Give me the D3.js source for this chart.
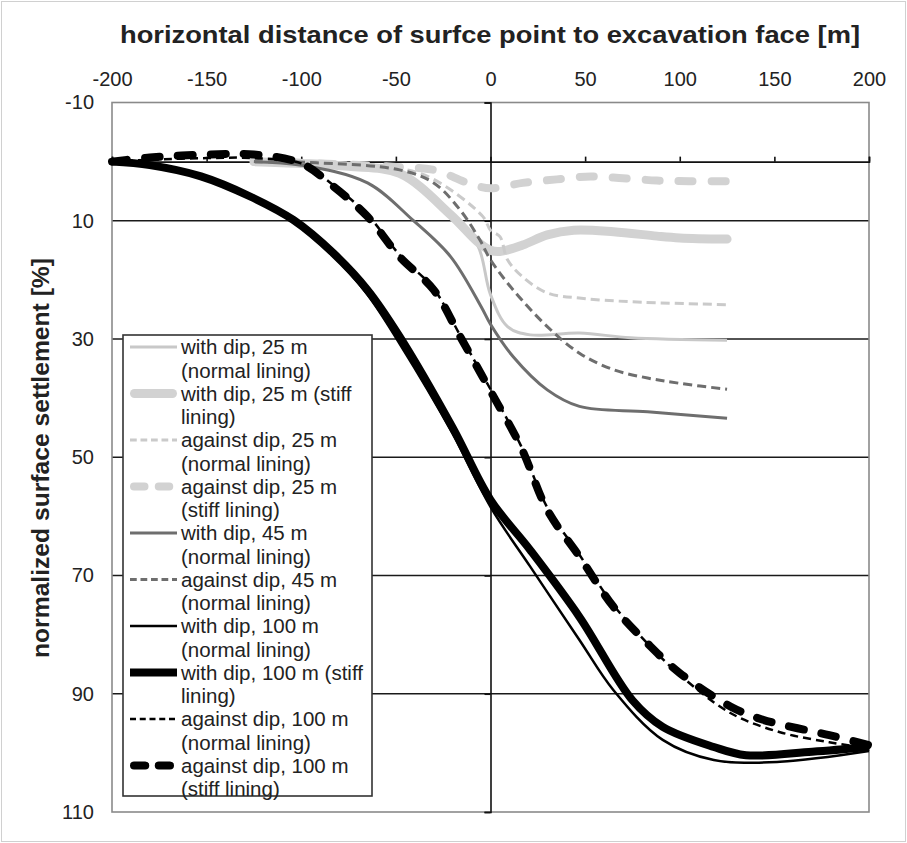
<!DOCTYPE html>
<html>
<head>
<meta charset="utf-8">
<script src="https://cdn.jsdelivr.net/npm/d3@7"></script>
<style>
  body { margin: 0; background: #fff; }
  text { font-family: 'Liberation Sans', Arial, sans-serif; fill: #222; }
</style>
</head>
<body>
<div id="chart"></div>
<script>
// chart values
var xTicks = [-200, -150, -100, -50, 0, 50, 100, 150, 200]
var yTicks = [-10, 10, 30, 50, 70, 90, 110]
var gridValues = [10, 30, 50, 70, 90]

var withDip25Normal = [[-125, 0], [-100, 0.3], [-75, 0.8], [-48, 2], [-21, 9.3], [-7, 14], [0, 22.5], [9, 27.9], [21, 29.3], [47, 29], [74, 29.8], [125, 30.2]]
var withDip25Stiff = [[-125, 0], [-100, 0.3], [-75, 0.8], [-48, 2], [-21, 9], [-7, 13.5], [0, 15], [5, 15.2], [17, 14.1], [30, 12.4], [44, 11.6], [65, 11.85], [88, 12.6], [100, 12.9], [125, 13.1]]
var againstDip25Normal = [[-125, 0], [-100, 0], [-50, 1], [-30, 3], [-4, 9.3], [0, 11.6], [5, 12.7], [9, 16.6], [17, 19.5], [30, 22.2], [48, 23.1], [74, 23.7], [125, 24.2]]
var againstDip25Stiff = [[-125, 0], [-100, 0.2], [-75, 0.5], [-50, 0.9], [-30, 1.4], [-12, 3.6], [0, 4.5], [17, 3.6], [35, 3], [53, 2.5], [70, 2.8], [88, 3.2], [105, 3.3], [125, 3.3]]
var withDip45Normal = [[-125, 0], [-100, 0.6], [-65, 3.6], [-41, 9.9], [-21, 16.1], [-5, 24.5], [0, 27.5], [12, 33], [30, 38.6], [47, 41.4], [83, 42.3], [125, 43.4]]
var againstDip45Normal = [[-125, 0], [-92, 0.2], [-48, 1.4], [-30, 3.6], [-16, 8.2], [-5.5, 13.3], [0, 16.6], [12, 21.7], [30, 27.9], [47, 32.4], [65, 35.2], [83, 36.6], [100, 37.5], [125, 38.5]]
var withDip100Normal = [[-200, 0], [-180, 0.6], [-153, 2.6], [-127, 6.1], [-104, 10.3], [-83, 16], [-65, 22.5], [-48, 30.8], [-20, 46], [0, 58.4], [21, 68.5], [47, 80.9], [65, 89.4], [91, 97.8], [118, 101.2], [153, 101.5], [200, 99.7]]
var withDip100Stiff = [[-200, 0], [-180, 0.6], [-153, 2.5], [-127, 5.9], [-104, 9.9], [-83, 15.5], [-65, 21.7], [-48, 29.6], [-20, 45], [0, 57.2], [21, 65.7], [47, 77], [75, 91.1], [91, 95.6], [118, 99], [135, 100.4], [170, 99.8], [200, 99]]
var againstDip100Normal = [[-200, 0], [-180, -0.3], [-150, -0.6], [-125, -0.6], [-100, 0.3], [-83, 4], [-65, 9], [-48, 15.8], [-30, 21.5], [-16, 29.4], [0, 38.5], [16, 48], [30, 58.5], [47, 66.5], [65, 75], [83, 81.5], [100, 86.8], [127, 93.3], [153, 96.5], [179, 98.2], [200, 99.2]]
var againstDip100Stiff = [[-200, 0], [-180, -0.7], [-150, -1.2], [-125, -1.2], [-100, 0.3], [-83, 4.2], [-65, 9.3], [-48, 16.1], [-30, 21.7], [-16, 29.6], [0, 38.8], [16, 48.2], [30, 58.9], [47, 66.8], [65, 75.3], [83, 81.5], [100, 86.5], [127, 92.2], [144, 94.4], [179, 97], [200, 98.7]]

var seriesNames = [
  'with dip, 25 m (normal lining)',
  'with dip, 25 m (stiff lining)',
  'against dip, 25 m (normal lining)',
  'against dip, 25 m (stiff lining)',
  'with dip, 45 m (normal lining)',
  'against dip, 45 m (normal lining)',
  'with dip, 100 m (normal lining)',
  'with dip, 100 m (stiff lining)',
  'against dip, 100 m (normal lining)',
  'against dip, 100 m (stiff lining)'
]

// line looks for each series
var styles = [
  { color: '#c8c8c8', width: 3, dash: null, cap: 'butt' },
  { color: '#d2d2d2', width: 9, dash: null, cap: 'round' },
  { color: '#cacaca', width: 3, dash: '9,5', cap: 'butt' },
  { color: '#d2d2d2', width: 8, dash: '14,19', cap: 'round' },
  { color: '#6e6e6e', width: 3, dash: null, cap: 'butt' },
  { color: '#6e6e6e', width: 3, dash: '9,5', cap: 'butt' },
  { color: '#000', width: 2.5, dash: null, cap: 'butt' },
  { color: '#000', width: 8, dash: null, cap: 'butt' },
  { color: '#000', width: 2.5, dash: '8,5', cap: 'butt' },
  { color: '#000', width: 8, dash: '15,18', cap: 'round' }
]

var series = [withDip25Normal, withDip25Stiff, againstDip25Normal, againstDip25Stiff,
  withDip45Normal, againstDip45Normal, withDip100Normal, withDip100Stiff,
  againstDip100Normal, againstDip100Stiff]

var width = 907
var height = 843

var svg = d3.select('#chart')
  .append('svg')
  .attr('width', width)
  .attr('height', height)

svg.append('rect')
  .attr('x', 1.5).attr('y', 1.5)
  .attr('width', width - 3).attr('height', height - 3)
  .attr('fill', '#fff')
  .attr('stroke', '#d0d0d0')

var xPositionScale = d3.scaleLinear().domain([-200, 200]).range([112, 869])
var yPositionScale = d3.scaleLinear().domain([-10, 110]).range([102.5, 812])

// gridlines
svg.selectAll('.grid')
  .data(gridValues)
  .enter()
  .append('line')
  .attr('class', 'grid')
  .attr('x1', xPositionScale(-200))
  .attr('x2', xPositionScale(200))
  .attr('y1', d => yPositionScale(d))
  .attr('y2', d => yPositionScale(d))
  .attr('stroke', '#1a1a1a')
  .attr('stroke-width', 1.6)

// plot frame
svg.append('rect')
  .attr('x', xPositionScale(-200))
  .attr('y', yPositionScale(-10))
  .attr('width', xPositionScale(200) - xPositionScale(-200))
  .attr('height', yPositionScale(110) - yPositionScale(-10))
  .attr('fill', 'none')
  .attr('stroke', '#8a8a8a')
  .attr('stroke-width', 1.6)

// x axis crosses at 0, ticks pointing up
var xAxis = d3.axisTop(xPositionScale).tickValues(xTicks).tickSize(5).tickFormat('')
svg.append('g')
  .attr('class', 'axis x-axis')
  .attr('transform', 'translate(0,' + yPositionScale(0) + ')')
  .call(xAxis)

// y axis crosses at 0
var yAxis = d3.axisLeft(yPositionScale).tickValues(yTicks).tickSize(6).tickFormat('')
svg.append('g')
  .attr('class', 'axis y-axis')
  .attr('transform', 'translate(' + xPositionScale(0) + ',0)')
  .call(yAxis)

svg.selectAll('.axis path, .axis line')
  .attr('stroke', '#111')
  .attr('stroke-width', 1.6)

// tick labels (plain hyphen minus like the original)
var xLabels = d3.axisTop(xPositionScale).tickValues(xTicks).tickSize(0).tickPadding(0).tickFormat(d => String(d))
svg.append('g')
  .attr('class', 'x-labels')
  .attr('transform', 'translate(0,86)')
  .call(xLabels)

var yLabels = d3.axisLeft(yPositionScale).tickValues(yTicks).tickSize(0).tickPadding(0).tickFormat(d => String(d))
svg.append('g')
  .attr('class', 'y-labels')
  .attr('transform', 'translate(94,0)')
  .call(yLabels)

svg.selectAll('.x-labels path, .y-labels path').remove()
svg.selectAll('.x-labels text, .y-labels text')
  .attr('font-size', 20)
  .attr('font-family', "'Liberation Sans', Arial, sans-serif")
  .attr('fill', '#222')

// lines
var line = d3.line()
  .x(d => xPositionScale(d[0]))
  .y(d => yPositionScale(d[1]))
  .curve(d3.curveCatmullRom.alpha(0.5))

svg.selectAll('.series')
  .data(series)
  .enter()
  .append('path')
  .attr('class', 'series')
  .attr('d', line)
  .attr('fill', 'none')
  .attr('stroke', (d, i) => styles[i].color)
  .attr('stroke-width', (d, i) => styles[i].width)
  .attr('stroke-dasharray', (d, i) => styles[i].dash)
  .attr('stroke-linecap', (d, i) => styles[i].cap)
  .attr('stroke-linejoin', 'round')

// titles
svg.append('text')
  .text('horizontal distance of surfce point to excavation face [m]')
  .attr('x', 490)
  .attr('y', 43)
  .attr('text-anchor', 'middle')
  .attr('font-size', 24)
  .attr('font-weight', 'bold')
  .attr('fill', '#2b2b2b')
  .attr('textLength', 740)
  .attr('lengthAdjust', 'spacingAndGlyphs')

svg.append('text')
  .text('normalized surface settlement [%]')
  .attr('transform', 'translate(49,458) rotate(-90)')
  .attr('text-anchor', 'middle')
  .attr('font-size', 24)
  .attr('font-weight', 'bold')
  .attr('fill', '#2b2b2b')
  .attr('textLength', 400)
  .attr('lengthAdjust', 'spacingAndGlyphs')

// legend
var legend = svg.append('g').attr('class', 'legend')
legend.append('rect')
  .attr('x', 123).attr('y', 335)
  .attr('width', 249).attr('height', 461)
  .attr('fill', '#fff')
  .attr('stroke', '#333')
  .attr('stroke-width', 1.6)

var maxTextWidth = 190
seriesNames.forEach(function(name, i) {
  var cy = 347 + i * 46.5
  var st = styles[i]
  legend.append('line')
    .attr('x1', 130 + (st.cap === 'round' ? st.width / 2 : 0))
    .attr('x2', 177 - (st.cap === 'round' ? st.width / 2 : 0))
    .attr('y1', cy).attr('y2', cy)
    .attr('stroke', st.color)
    .attr('stroke-width', st.width)
    .attr('stroke-dasharray', st.dash ? st.dash.split(',').map(v => +v * 0.75).join(',') : null)
    .attr('stroke-linecap', st.cap)

  var text = legend.append('text')
    .attr('x', 181)
    .attr('y', cy + 7)
    .attr('font-size', 20.5)
    .attr('fill', '#222')

  // word wrap
  var words = name.split(' ')
  var lineText = []
  var tspan = text.append('tspan').attr('x', 181).attr('dy', 0)
  words.forEach(function(w) {
    lineText.push(w)
    tspan.text(lineText.join(' '))
    if (tspan.node().getComputedTextLength() > maxTextWidth && lineText.length > 1) {
      lineText.pop()
      tspan.text(lineText.join(' '))
      lineText = [w]
      tspan = text.append('tspan').attr('x', 181).attr('dy', 23.5).text(w)
    }
  })
})
</script>
</body>
</html>
